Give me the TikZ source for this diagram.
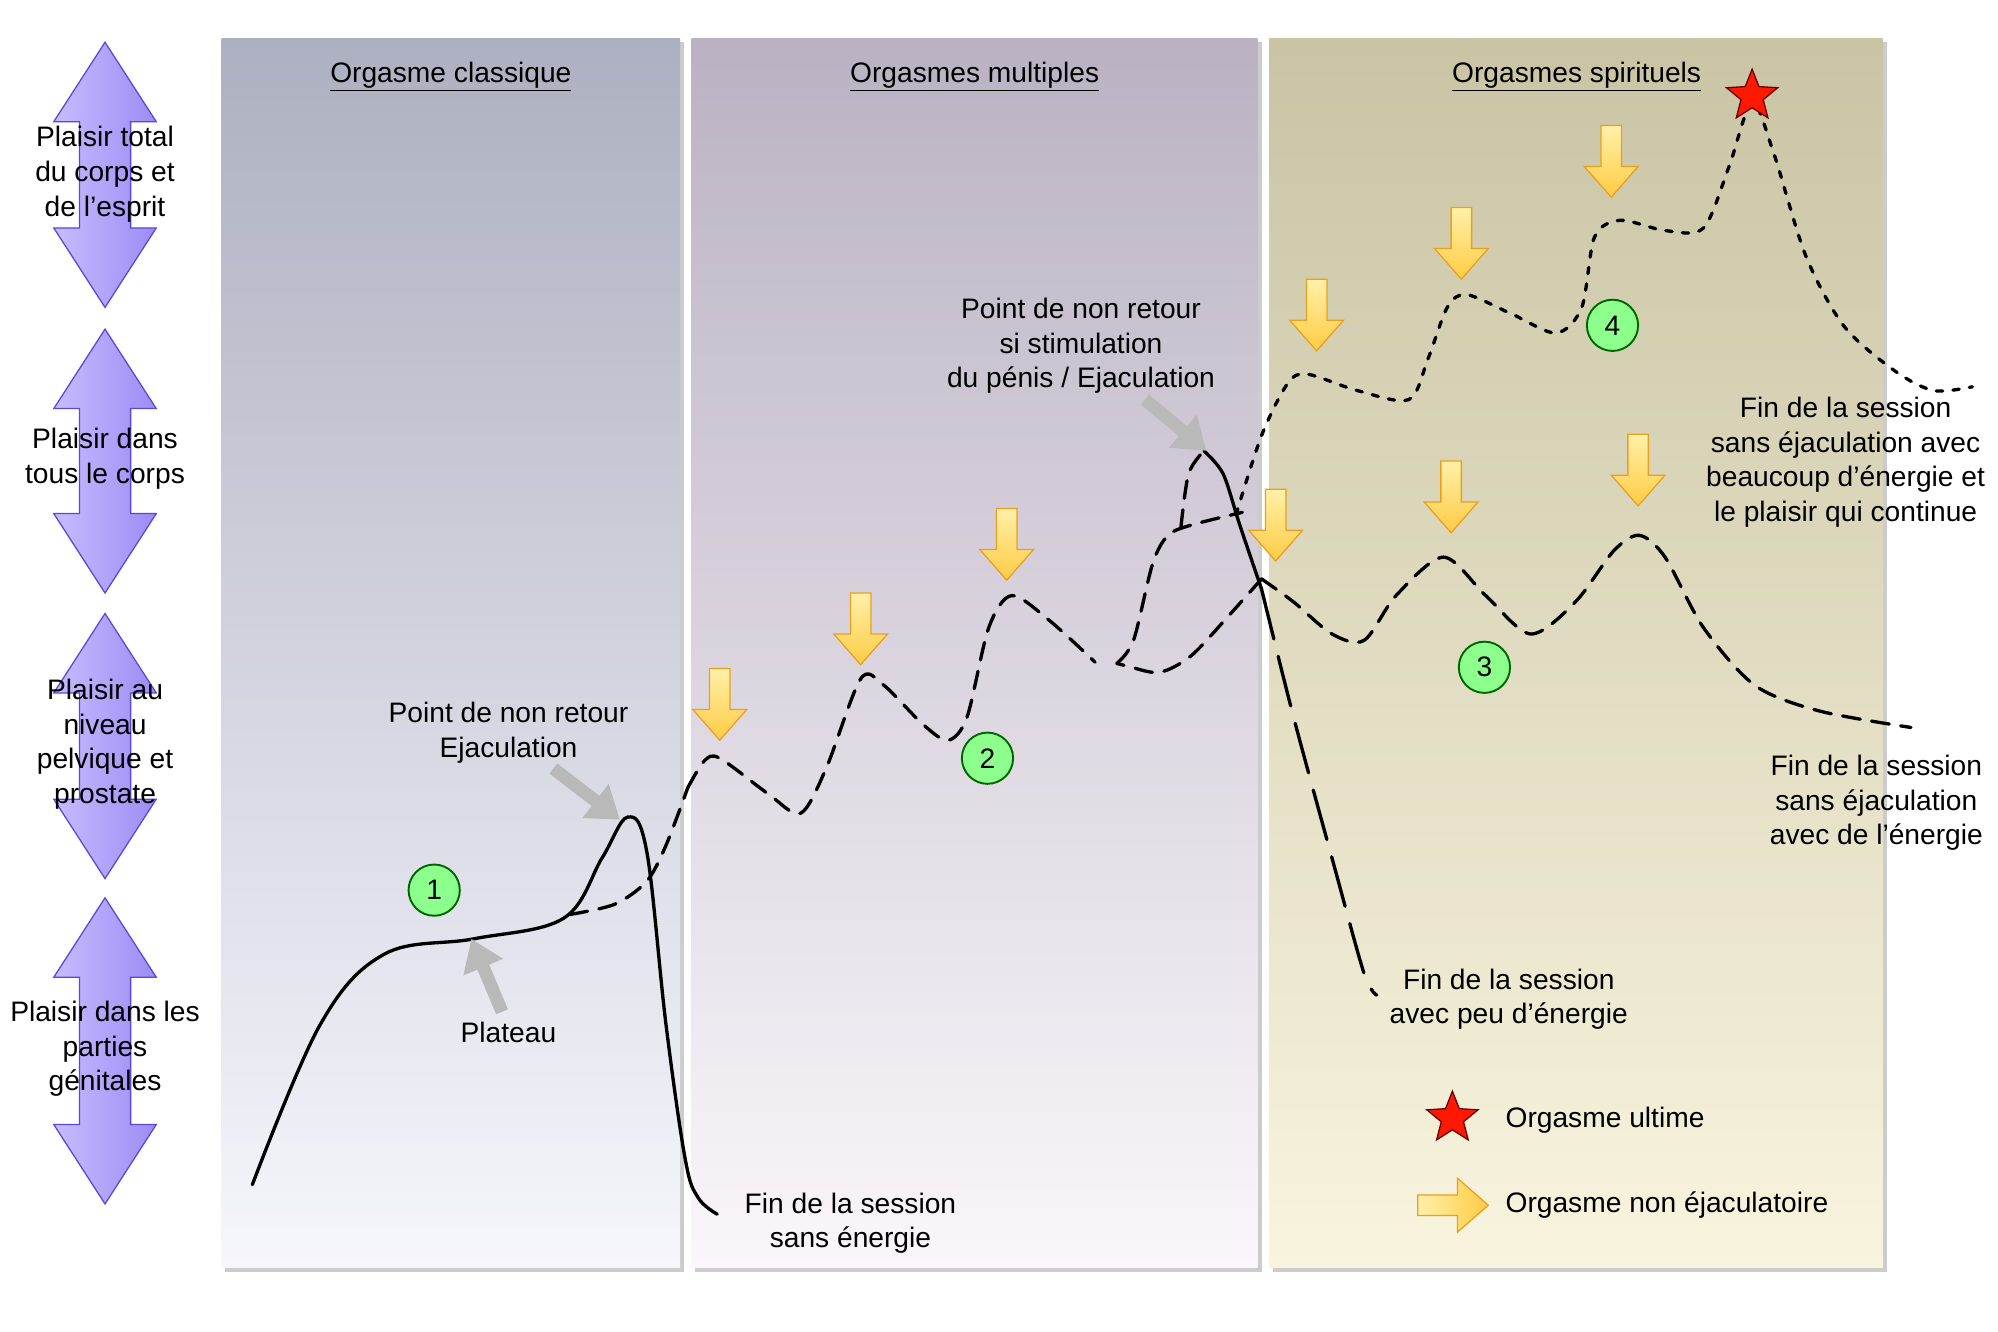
\documentclass[tikz,border=0pt]{standalone}
\usepackage{fontspec}
\setmainfont{Liberation Sans}
\usepackage{xcolor}
\usetikzlibrary{shapes.geometric,arrows.meta}

\definecolor{levelviolet}{HTML}{9C8CF4}
\definecolor{levellight}{HTML}{C8BCFF}
\definecolor{levelline}{HTML}{5A48D8}
\definecolor{orgyellow}{HTML}{FFCC44}
\definecolor{orglight}{HTML}{FFF0A8}
\definecolor{orgline}{HTML}{E8A020}
\definecolor{classtop}{HTML}{ADB0C0}
\definecolor{classmid}{HTML}{B6BEF2}
\definecolor{classbot}{HTML}{F6F6FC}
\definecolor{multtop}{HTML}{BAB2C2}
\definecolor{multmid}{HTML}{DEBEF0}
\definecolor{multbot}{HTML}{FBF6FB}
\definecolor{spirtop}{HTML}{C9C4A4}
\definecolor{spirmid}{HTML}{F0E29A}
\definecolor{spirbot}{HTML}{F8F4DE}

% vertical double arrow: x, top, bottom
\newcommand{\levelarrow}[3]{%
  \shade[left color=levellight, right color=levelviolet, draw=levelline, line width=1pt]
    (#1,#2) -- (#1+40,#2+62) -- (#1+20,#2+62) -- (#1+20,#3-62) -- (#1+40,#3-62)
    -- (#1,#3) -- (#1-40,#3-62) -- (#1-20,#3-62) -- (#1-20,#2+62) -- (#1-40,#2+62) -- cycle;}
% yellow down arrow: x, top
\newcommand{\orgdown}[2]{%
  \shade[top color=orglight, bottom color=orgyellow, draw=orgline, line width=1pt]
    (#1-8,#2) -- (#1+8,#2) -- (#1+8,#2+32) -- (#1+21,#2+32) -- (#1,#2+56)
    -- (#1-21,#2+32) -- (#1-8,#2+32) -- cycle;}

\begin{document}
\begin{tikzpicture}[x=1pt,y=-1pt,
    every node/.style={font=\fontsize{22}{27}\selectfont, align=center},
    curve/.style={line width=2.6pt, line cap=round},
    dashcurve/.style={curve, dash pattern=on 14pt off 9pt},
    dotcurve/.style={curve, dash pattern=on 5pt off 8pt},
    pointer/.style={-{Triangle[length=24pt,width=32pt]}, line width=10pt, draw=gray!55},
    num/.style={circle, draw=green!40!black, line width=1.5pt, fill=green!45!white, minimum size=40pt, inner sep=0pt},
    ustar/.style={star, star points=5, star point ratio=2.3, fill=red!80!orange, draw=red!40!black, line width=1pt, minimum size=42pt, inner sep=0pt}]
  \useasboundingbox (0,0) rectangle (1560,1040);

  % panels
  \fill[gray!40] (176,33) rectangle (534,993);
  \fill[gray!40] (543,33) rectangle (985,993);
  \fill[gray!40] (994,33) rectangle (1473,993);
  \shade[top color=classtop, middle color=classmid, bottom color=classbot] (173,30) rectangle (531,990);
  \shade[top color=multtop, middle color=multmid, bottom color=multbot] (540,30) rectangle (982,990);
  \shade[top color=spirtop, middle color=spirmid, bottom color=spirbot] (991,30) rectangle (1470,990);

  \node (t1) at (352,60) {\underline{Orgasme classique}};
  \node (t2) at (761,60) {\underline{Orgasmes multiples}};
  \node (t3) at (1231,60) {\underline{Orgasmes spirituels}};

  % levels
  \levelarrow{82}{33}{240}
  \levelarrow{82}{257}{463}
  \levelarrow{82}{479}{686}
  \levelarrow{82}{701}{940}
  \node (l1) at (82,136) {Plaisir total\\du corps et\\de l'esprit};
  \node (l2) at (82,358) {Plaisir dans\\tous le corps};
  \node (l3) at (82,581) {Plaisir au\\niveau\\pelvique et\\prostate};
  \node (l4) at (82,819) {Plaisir dans les\\parties\\génitales};

  % curves
  \draw[curve] plot[smooth, tension=0.6] coordinates {(197,925) (250,800) (300,745) (370,733) (440,717) (470,670) (490,638) (505,665) (520,800) (535,905) (545,935) (560,948)};
  \draw[dashcurve] plot[smooth] coordinates {(445,714) (480,706) (505,688) (520,660) (537,615)};
  \draw[dashcurve] plot[smooth] coordinates {(537,615) (550,594) (562,592) (600,620) (625,635) (645,600) (672,530) (690,535) (720,565) (740,578) (755,560) (772,490) (790,465) (820,485) (855,517)};
  \draw[dashcurve] plot[smooth] coordinates {(872,518) (885,500) (900,440) (912,418) (930,410) (970,400)};
  \draw[dashcurve] plot[smooth] coordinates {(922,412) (928,370) (940,352)};
  \draw[curve] plot[smooth] coordinates {(940,352) (955,370) (968,410) (985,460)};
  \draw[curve, dash pattern=on 40pt off 14pt] plot[smooth] coordinates {(985,460) (1010,560) (1040,670) (1065,760) (1075,777)};
  \draw[dashcurve] plot[smooth] coordinates {(985,452) (960,480) (930,512) (905,525) (880,520) (872,518)};
  \draw[dashcurve] plot[smooth] coordinates {(985,452) (1010,470) (1040,495) (1065,500) (1090,465) (1127,435) (1160,465) (1195,495) (1230,470) (1260,430) (1280,418) (1300,435) (1330,490) (1370,535) (1420,555) (1492,568)};
  \draw[dotcurve] plot[smooth] coordinates {(965,402) (985,340) (1005,300) (1020,292) (1060,305) (1100,312) (1115,280) (1130,240) (1145,230) (1180,245) (1215,260) (1235,240) (1245,185) (1265,172) (1300,180) (1330,178) (1350,130) (1368,80) (1385,120) (1410,200) (1440,255) (1480,290) (1510,305) (1540,302)};

  % non ejaculatory orgasms
  \orgdown{562}{522}
  \orgdown{672}{463}
  \orgdown{786}{397}
  \orgdown{996}{382}
  \orgdown{1028}{218}
  \orgdown{1141}{162}
  \orgdown{1258}{98}
  \orgdown{1133}{360}
  \orgdown{1279}{339}

  \node[num] (n1) at (339,695) {1};
  \node[num] (n2) at (771,592) {2};
  \node[num] (n3) at (1159,521) {3};
  \node[num] (n4) at (1259,254) {4};
  \node[ustar] (top) at (1368,75) {};

  % annotations
  \node (pnr) at (397,572) {Point de non retour\\Ejaculation};
  \node (plat) at (397,806) {Plateau};
  \node (pnrs) at (844,270) {Point de non retour\\si stimulation\\du pénis / Ejaculation};
  \coordinate (p1s) at (432,600);
  \coordinate (p1e) at (484,640);
  \coordinate (p2s) at (392,790);
  \coordinate (p2e) at (368,733);
  \coordinate (p3s) at (894,312);
  \coordinate (p3e) at (942,352);
  \draw[pointer] (p1s) -- (p1e);
  \draw[pointer] (p2s) -- (p2e);
  \draw[pointer] (p3s) -- (p3e);

  \node (fin1) at (664,955) {Fin de la session\\sans énergie};
  \node (fin2) at (1178,780) {Fin de la session\\avec peu d'énergie};
  \node (fin3) at (1441,361) {Fin de la session\\sans éjaculation avec\\beaucoup d'énergie et\\le plaisir qui continue};
  \node (fin4) at (1465,627) {Fin de la session\\sans éjaculation\\avec de l'énergie};

  % legend
  \node[ustar] (lgstar) at (1134,873) {};
  \node[anchor=west] (lg1) at (1172,875) {Orgasme ultime};
  \shade[left color=orglight, right color=orgyellow, draw=orgline, line width=1pt]
    (1107,933) -- (1107,949) -- (1138,949) -- (1138,962) -- (1162,941) -- (1138,920) -- (1138,933) -- cycle;
  \node[anchor=west] (lg2) at (1172,941) {Orgasme non éjaculatoire};
\end{tikzpicture}
\end{document}
